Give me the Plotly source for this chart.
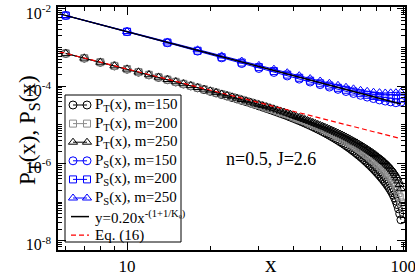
import plotly.graph_objects as go

# ---------------- data ----------------
x_T = list(range(6, 99))          # integer distances x = 6 ... 98
# log10 of P_T(x)
log10_PT_m150 = [-3.152, -3.274, -3.381, -3.475, -3.559, -3.636, -3.707, -3.771, -3.832, -3.890,
                 -3.943, -3.993, -4.042, -4.088, -4.132, -4.174, -4.216, -4.255, -4.294, -4.331,
                 -4.368, -4.403, -4.439, -4.473, -4.510, -4.544, -4.577, -4.610, -4.642, -4.674,
                 -4.706, -4.737, -4.768, -4.800, -4.831, -4.862, -4.893, -4.924, -4.955, -4.986,
                 -5.017, -5.048, -5.080, -5.111, -5.142, -5.174, -5.206, -5.238, -5.271, -5.304,
                 -5.336, -5.369, -5.402, -5.436, -5.469, -5.503, -5.538, -5.573, -5.608, -5.644,
                 -5.680, -5.716, -5.752, -5.789, -5.826, -5.863, -5.901, -5.940, -5.979, -6.019,
                 -6.058, -6.098, -6.140, -6.181, -6.224, -6.266, -6.309, -6.353, -6.398, -6.444,
                 -6.491, -6.539, -6.589, -6.642, -6.697, -6.756, -6.821, -6.893, -6.972, -7.065,
                 -7.173, -7.302, -7.458]
log10_PT_m200 = [-3.151, -3.274, -3.380, -3.474, -3.558, -3.634, -3.705, -3.769, -3.830, -3.886,
                 -3.939, -3.989, -4.037, -4.081, -4.125, -4.166, -4.207, -4.245, -4.283, -4.319,
                 -4.354, -4.388, -4.422, -4.455, -4.486, -4.518, -4.548, -4.579, -4.609, -4.638,
                 -4.668, -4.696, -4.725, -4.754, -4.789, -4.816, -4.845, -4.873, -4.901, -4.929,
                 -4.957, -4.984, -5.013, -5.040, -5.068, -5.096, -5.124, -5.152, -5.181, -5.209,
                 -5.238, -5.266, -5.294, -5.323, -5.352, -5.381, -5.411, -5.441, -5.470, -5.501,
                 -5.531, -5.561, -5.591, -5.623, -5.654, -5.685, -5.717, -5.749, -5.781, -5.814,
                 -5.847, -5.880, -5.914, -5.948, -5.983, -6.018, -6.053, -6.089, -6.126, -6.164,
                 -6.202, -6.241, -6.282, -6.325, -6.371, -6.419, -6.473, -6.532, -6.599, -6.676,
                 -6.767, -6.876, -7.010]
log10_PT_m250 = [-3.151, -3.273, -3.380, -3.473, -3.557, -3.633, -3.703, -3.767, -3.827, -3.884,
                 -3.936, -3.985, -4.033, -4.077, -4.120, -4.160, -4.200, -4.237, -4.274, -4.309,
                 -4.344, -4.377, -4.410, -4.441, -4.471, -4.502, -4.531, -4.561, -4.588, -4.617,
                 -4.645, -4.671, -4.698, -4.725, -4.756, -4.782, -4.808, -4.834, -4.860, -4.886,
                 -4.911, -4.936, -4.962, -4.987, -5.012, -5.037, -5.062, -5.087, -5.112, -5.138,
                 -5.162, -5.188, -5.212, -5.238, -5.263, -5.288, -5.314, -5.340, -5.365, -5.392,
                 -5.418, -5.444, -5.469, -5.496, -5.523, -5.549, -5.576, -5.603, -5.631, -5.659,
                 -5.686, -5.713, -5.742, -5.770, -5.800, -5.829, -5.858, -5.888, -5.918, -5.950,
                 -5.981, -6.014, -6.048, -6.083, -6.121, -6.161, -6.206, -6.255, -6.310, -6.375,
                 -6.452, -6.544, -6.657]

x_S = [6, 10, 14, 18, 22, 26, 30, 34, 38, 42, 46, 50, 54, 58, 62, 66, 70, 74, 78, 82, 86, 90, 94, 98]
# log10 of P_S(x)
log10_PS_m150 = [-2.170, -2.589, -2.875, -3.092, -3.266, -3.413, -3.541, -3.644, -3.735, -3.817,
                 -3.892, -3.960, -4.023, -4.082, -4.137, -4.188, -4.236, -4.282, -4.320, -4.356,
                 -4.385, -4.407, -4.428, -4.412]
log10_PS_m200 = [-2.170, -2.589, -2.870, -3.082, -3.251, -3.388, -3.506, -3.609, -3.700, -3.782,
                 -3.857, -3.925, -3.983, -4.042, -4.092, -4.138, -4.181, -4.222, -4.255, -4.276,
                 -4.295, -4.312, -4.328, -4.322]
log10_PS_m250 = [-2.170, -2.584, -2.855, -3.057, -3.216, -3.348, -3.461, -3.559, -3.650, -3.727,
                 -3.802, -3.865, -3.923, -3.977, -4.027, -4.068, -4.106, -4.132, -4.155, -4.166,
                 -4.175, -4.172, -4.168, -4.152]

# fitted power law y = 0.20 x^-(1+1/K_rho) and Eq. (16)
fit_amp, fit_exp = 0.20, 1.89
eq16_amp, eq16_exp = 0.01845, 1.82
line_x = [5.7, 98]

x_ticks = [10, 100]
x_ticktext = ["10", "100"]
y_ticks = [1e-8, 1e-6, 1e-4, 1e-2]
y_ticktext = ["10<sup>-8</sup>", "10<sup>-6</sup>", "10<sup>-4</sup>", "10<sup>-2</sup>"]

legend_labels = ["P<sub>T</sub>(x), m=150", "P<sub>T</sub>(x), m=200", "P<sub>T</sub>(x), m=250",
                 "P<sub>S</sub>(x), m=150", "P<sub>S</sub>(x), m=200", "P<sub>S</sub>(x), m=250",
                 "y=0.20x<sup>-(1+1/K\u1d68)</sup>", "Eq. (16)"]

# ---------------- figure ----------------
FONT = "Liberation Serif"
W, H = 415, 280
ML, MR, MT, MB = 58, 10, 7, 30
PW, PH = W - ML - MR, H - MT - MB
fig = go.Figure()


def pw(vals):
    return [10 ** v for v in vals]


def px(xp):
    return (xp - ML) / PW


def py(yp):
    return 1 - (yp - MT) / PH


styles = [
    ("black", "circle-open", 8),
    ("#8c8c8c", "square-open", 7),
    ("black", "triangle-up-open", 8),
    ("blue", "circle-open", 8),
    ("blue", "square-open", 7),
    ("blue", "triangle-up-open", 8),
]
data = [(x_T, log10_PT_m150), (x_T, log10_PT_m200), (x_T, log10_PT_m250),
        (x_S, log10_PS_m150), (x_S, log10_PS_m200), (x_S, log10_PS_m250)]

for (xs, ys), (col, sym, sz), name in zip(data, styles, legend_labels):
    fig.add_trace(go.Scatter(
        x=xs, y=pw(ys), name=name, mode="lines+markers", showlegend=False,
        line=dict(color=col, width=1),
        marker=dict(symbol=sym, size=sz, color=col, line=dict(color=col, width=1)),
    ))

fig.add_trace(go.Scatter(
    x=line_x, y=[fit_amp * v ** (-fit_exp) for v in line_x], mode="lines",
    name=legend_labels[6], showlegend=False, line=dict(color="black", width=1.5)))
fig.add_trace(go.Scatter(
    x=line_x, y=[eq16_amp * v ** (-eq16_exp) for v in line_x], mode="lines",
    name=legend_labels[7], showlegend=False,
    line=dict(color="red", width=1.2, dash="5px,3px")))

# ---------------- hand-drawn legend (pixel overlay axes) ----------------
leg_box = dict(x0=65, x1=181, y0=95, y1=242)
row_y = [105 + 18.6 * i for i in range(8)]
sym_x0, sym_x1, text_x = 73, 87, 93
for i, (col, sym, sz) in enumerate(styles):
    fig.add_trace(go.Scatter(
        x=[sym_x0, sym_x1], y=[row_y[i], row_y[i]], xaxis="x2", yaxis="y2",
        mode="lines+markers", showlegend=False, hoverinfo="skip",
        line=dict(color=col, width=1),
        marker=dict(symbol=sym, size=sz, color=col, line=dict(color=col, width=1))))
fig.add_trace(go.Scatter(x=[71, 89], y=[row_y[6], row_y[6]], xaxis="x2", yaxis="y2",
                         mode="lines", showlegend=False, hoverinfo="skip",
                         line=dict(color="black", width=1.5)))
fig.add_trace(go.Scatter(x=[71, 89], y=[row_y[7], row_y[7]], xaxis="x2", yaxis="y2",
                         mode="lines", showlegend=False, hoverinfo="skip",
                         line=dict(color="red", width=1.2, dash="5px,3px")))

annotations = []
for i, lab in enumerate(legend_labels):
    annotations.append(dict(text=lab, x=px(text_x), y=py(row_y[i]), xref="paper", yref="paper",
                            xanchor="left", yanchor="middle", showarrow=False,
                            font=dict(family=FONT, size=15, color="black")))

minor_x = [6, 7, 8, 9, 20, 30, 40, 50, 60, 70, 80, 90]
minor_y = [k * 10.0 ** e for e in range(-9, -1) for k in range(1, 10) if not (k == 1 and e % 2 == 0)]

axis_common = dict(type="log", showgrid=False, zeroline=False, showline=True,
                   linecolor="black", linewidth=1.5, mirror="allticks",
                   ticks="inside", ticklen=8, tickwidth=1, tickcolor="black",
                   tickmode="array", ticklabeloverflow="allow", automargin=False)

fig.update_layout(
    xaxis=dict(**axis_common, range=[0.75, 2.006], tickvals=x_ticks, ticktext=x_ticktext,
               tickfont=dict(family=FONT, size=17, color="black"),
               minor=dict(tickmode="array", tickvals=minor_x, ticks="inside", ticklen=4,
                          tickwidth=1, tickcolor="black", showgrid=False)),
    yaxis=dict(**axis_common, range=[-8.24, -1.95], tickvals=y_ticks, ticktext=y_ticktext,
               tickfont=dict(family=FONT, size=16, color="black"),
               ticklabelshift=4, ticklabelstandoff=2,
               minor=dict(tickmode="array", tickvals=minor_y, ticks="inside", ticklen=4,
                          tickwidth=1, tickcolor="black", showgrid=False)),
    xaxis2=dict(overlaying="x", range=[ML, W - MR], visible=False, fixedrange=True),
    yaxis2=dict(overlaying="y", range=[H - MB, MT], visible=False, fixedrange=True),
)

annotations += [
    dict(text="n=0.5, J=2.6", x=px(271), y=py(171), xref="paper", yref="paper",
         showarrow=False, font=dict(family=FONT, size=18, color="black")),
    dict(text="x", x=px(271), y=py(279), xref="paper", yref="paper", showarrow=False,
         yanchor="bottom", font=dict(family=FONT, size=23, color="black")),
    dict(text="P<sub>T</sub>(x), P<sub>S</sub>(x)", x=px(13), y=py(130), xref="paper", yref="paper",
         textangle=-90, showarrow=False, font=dict(family=FONT, size=23, color="black")),
]

fig.update_layout(
    width=W, height=H,
    margin=dict(l=ML, r=MR, t=MT, b=MB, autoexpand=False),
    plot_bgcolor="white", paper_bgcolor="white",
    font=dict(family=FONT, color="black"),
    showlegend=False,
    shapes=[dict(type="rect", xref="paper", yref="paper", line=dict(color="black", width=1),
                 fillcolor="rgba(0,0,0,0)", layer="above",
                 x0=px(leg_box["x0"]), x1=px(leg_box["x1"]),
                 y0=py(leg_box["y1"]), y1=py(leg_box["y0"]))],
    annotations=annotations,
)

fig.write_html("out.html", config={"displayModeBar": False},
               post_script="document.body.style.margin='0px';")
